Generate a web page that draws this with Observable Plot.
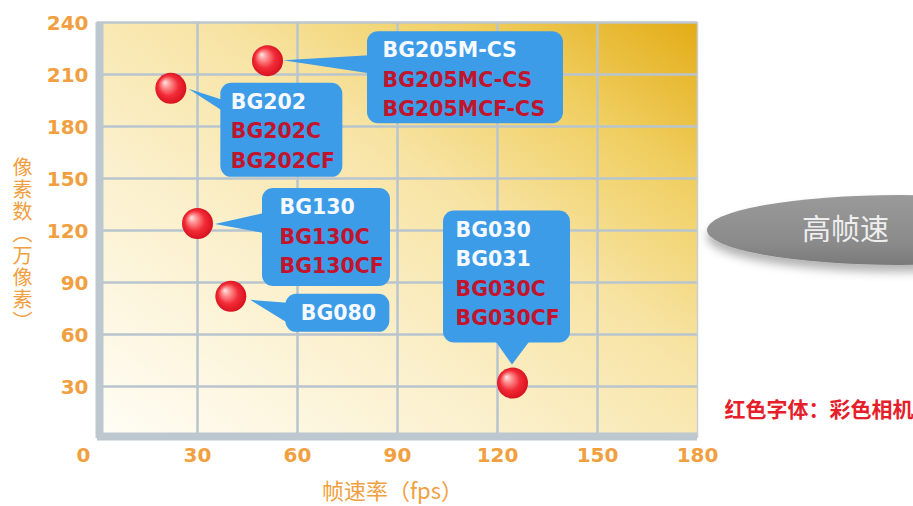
<!DOCTYPE html>
<html><head><meta charset="utf-8">
<script src="https://cdn.jsdelivr.net/npm/d3@7"></script>
<script src="https://cdn.jsdelivr.net/npm/@observablehq/plot@0.6"></script>
<style>
html,body{margin:0;padding:0;background:#fff;}
#chart{width:913px;height:506px;overflow:hidden;}
</style>
</head><body><div id="chart"></div>
<script>
// ---- data ----
const models = ["BG205", "BG202", "BG130", "BG080", "BG030"];
const frameRates = [51, 22, 30, 40, 124.5];          // fps
const megapixels = [218, 202, 124, 82, 32];           // 万像素
const monoNames = [["BG205M-CS"], ["BG202"], ["BG130"], ["BG080"], ["BG030", "BG031"]];
const colorNames = [["BG205MC-CS", "BG205MCF-CS"], ["BG202C", "BG202CF"], ["BG130C", "BG130CF"], [], ["BG030C", "BG030CF"]];
const xTicks = [0, 30, 60, 90, 120, 150, 180];
const yTicks = [30, 60, 90, 120, 150, 180, 210, 240];
const xGrid = [30, 60, 90, 120, 150];
const yGrid = [30, 60, 90, 120, 150, 180, 210];
const xLabel = "帧速率（fps）";
const yLabel = "像素数（万像素）";
const badgeText = "高帧速";
const noteText = "红色字体：彩色相机";

// ---- callout layout (pixel offsets from each point) ----
const calloutLayout = [
  {box: [100, -29, 196, 92], tail: [[16, 0], [102, -5], [102, 13]], pad: 15},
  {box: [50, -5, 122, 94], tail: [[18, 1], [52, 12], [52, 23]], pad: 10},
  {box: [65, -35, 128, 98], tail: [[18, 1], [67, -10], [67, 10]], pad: 17},
  {box: [55, -2, 104, 38], tail: [[20, 4], [57, 7], [57, 27]], pad: 15},
  {box: [-69, -172, 127, 132], tail: [[0, -18], [-17, -42], [18, -42]], pad: 12}
];

const points = models.map((m, i) => ({model: m, fps: frameRates[i], mp: megapixels[i]}));

const ORANGE = "#f0a040";
const BLUE = "#3c9ce8";
const WHITE_TXT = "#f6f9ff";
const RED_TXT = "#c2142c";
const GRID = "#b8c4ce";

const defs = () => {
  const d = d3.create("svg:defs");
  const bg = d.append("linearGradient").attr("id", "bgGrad")
    .attr("x1", 0).attr("y1", 1).attr("x2", 1).attr("y2", 0);
  [[0, "#fffdf6"], [0.35, "#fbf0cc"], [0.6, "#f7e3a2"], [0.8, "#f0cf62"], [1, "#e3ac16"]]
    .forEach(([o, c]) => bg.append("stop").attr("offset", o).attr("stop-color", c));
  const sp = d.append("radialGradient").attr("id", "sphere")
    .attr("cx", 0.5).attr("cy", 0.5).attr("r", 0.55).attr("fx", 0.3).attr("fy", 0.3);
  [[0, "#ffe6e6"], [0.25, "#ff9090"], [0.6, "#f12a36"], [1, "#d20e1a"]]
    .forEach(([o, c]) => sp.append("stop").attr("offset", o).attr("stop-color", c));
  const eg = d.append("linearGradient").attr("id", "ellGrad")
    .attr("x1", 0).attr("y1", 0).attr("x2", 0).attr("y2", 1);
  [[0, "#9a9a9a"], [0.7, "#8a8a8a"], [1, "#7a7a7a"]]
    .forEach(([o, c]) => eg.append("stop").attr("offset", o).attr("stop-color", c));
  const f = d.append("filter").attr("id", "shadow").attr("x", "-20%").attr("y", "-30%").attr("width", "140%").attr("height", "190%");
  f.append("feDropShadow").attr("dx", 0).attr("dy", 7).attr("stdDeviation", 5)
    .attr("flood-color", "#000").attr("flood-opacity", 0.3);
  return d.node();
};

const calloutShapes = (index, scales) => {
  const g = d3.create("svg:g");
  points.forEach((p, i) => {
    const L = calloutLayout[i];
    const px = scales.x(p.fps), py = scales.y(p.mp);
    const t = L.tail;
    g.append("path")
      .attr("d", `M${px + t[0][0]},${py + t[0][1]}L${px + t[1][0]},${py + t[1][1]}L${px + t[2][0]},${py + t[2][1]}Z`)
      .attr("fill", BLUE);
    g.append("rect")
      .attr("x", px + L.box[0]).attr("y", py + L.box[1])
      .attr("width", L.box[2]).attr("height", L.box[3])
      .attr("rx", 11).attr("fill", BLUE);
  });
  return g.node();
};

const badgeShape = (index, scales, values, dimensions) => {
  const g = d3.create("svg:g");
  g.append("ellipse")
    .attr("cx", dimensions.width - 13).attr("cy", (dimensions.marginTop + dimensions.height - dimensions.marginBottom) / 2)
    .attr("rx", 193).attr("ry", 35)
    .attr("fill", "url(#ellGrad)").attr("filter", "url(#shadow)");
  return g.node();
};

// text marks for the callouts, one per line
const calloutText = [];
points.forEach((p, i) => {
  const L = calloutLayout[i];
  const lines = monoNames[i].map(t => [t, WHITE_TXT]).concat(colorNames[i].map(t => [t, RED_TXT]));
  lines.forEach(([t, c], j) => {
    calloutText.push(Plot.text([p], {
      x: "fps", y: "mp", text: () => t,
      dx: L.box[0] + L.pad, dy: L.box[1] + 19 + j * 29.5,
      textAnchor: "start", fill: c,
      fontFamily: "DejaVu Sans", fontWeight: "bold", fontSize: 20.5
    }));
  });
});

const chart = Plot.plot({
  width: 913,
  height: 506,
  marginLeft: 97,
  marginRight: 216,
  marginTop: 22,
  marginBottom: 68,
  style: {background: "#fff", overflow: "visible"},
  x: {domain: [0, 180], axis: null},
  y: {domain: [0, 240], axis: null},
  marks: [
    defs,
    Plot.frame({fill: "url(#bgGrad)", stroke: "none"}),
    Plot.ruleX(xGrid, {stroke: GRID, strokeWidth: 2.5}),
    Plot.ruleY(yGrid, {stroke: GRID, strokeWidth: 2.5}),
    Plot.ruleY([240], {stroke: "#bcc6ce", strokeWidth: 2.5}),
    Plot.ruleX([180], {stroke: "#c8ced2", strokeWidth: 1.5}),
    Plot.ruleX([0], {stroke: "#bcc7d0", strokeWidth: 8, dx: 2}),
    Plot.ruleY([0], {stroke: "#bcc7d0", strokeWidth: 8, dy: -2}),
    // ticks
    Plot.text(yTicks, {y: d => d, frameAnchor: "left", dx: -9, dy: 1.5, textAnchor: "end",
      fill: ORANGE, fontFamily: "DejaVu Sans", fontWeight: "bold", fontSize: 20}),
    Plot.text(xTicks.filter(d => d !== 0), {x: d => d, frameAnchor: "bottom", dy: 23,
      fill: ORANGE, fontFamily: "DejaVu Sans", fontWeight: "bold", fontSize: 20}),
    Plot.text(xTicks.filter(d => d === 0), {x: d => d, frameAnchor: "bottom", dy: 23, dx: -14,
      fill: ORANGE, fontFamily: "DejaVu Sans", fontWeight: "bold", fontSize: 20}),
    // axis labels
    Plot.text([xLabel], {frameAnchor: "bottom", dx: -5, dy: 60, fill: ORANGE,
      fontFamily: "Noto Sans CJK SC", fontSize: 22}),
    Plot.text([yLabel], {frameAnchor: "left", dx: -75, dy: 8, textAnchor: "middle",
      fill: ORANGE, fontFamily: "Noto Sans CJK SC", fontSize: 20}),
    // callouts
    calloutShapes,
    ...calloutText,
    Plot.dot(points, {x: "fps", y: "mp", r: 15.5, fill: "url(#sphere)", stroke: "none"}),
    // badge + note
    badgeShape,
    Plot.text([badgeText], {frameAnchor: "right", dx: 148, dy: 0, textAnchor: "middle",
      fill: "#eeeeee", fontFamily: "Noto Sans CJK SC", fontSize: 29}),
    Plot.text([noteText], {frameAnchor: "right", dx: 216, dy: 180, textAnchor: "end",
      fill: "#e5202a", fontFamily: "Noto Sans CJK SC", fontWeight: "bold", fontSize: 21})
  ]
});
// set the y-axis title in vertical writing mode
d3.select(chart).selectAll("text")
  .filter(function () { return this.textContent === yLabel; })
  .attr("dy", null)
  .style("writing-mode", "vertical-rl")
  .style("letter-spacing", "2px");
document.getElementById("chart").append(chart);
</script>
</body></html>
